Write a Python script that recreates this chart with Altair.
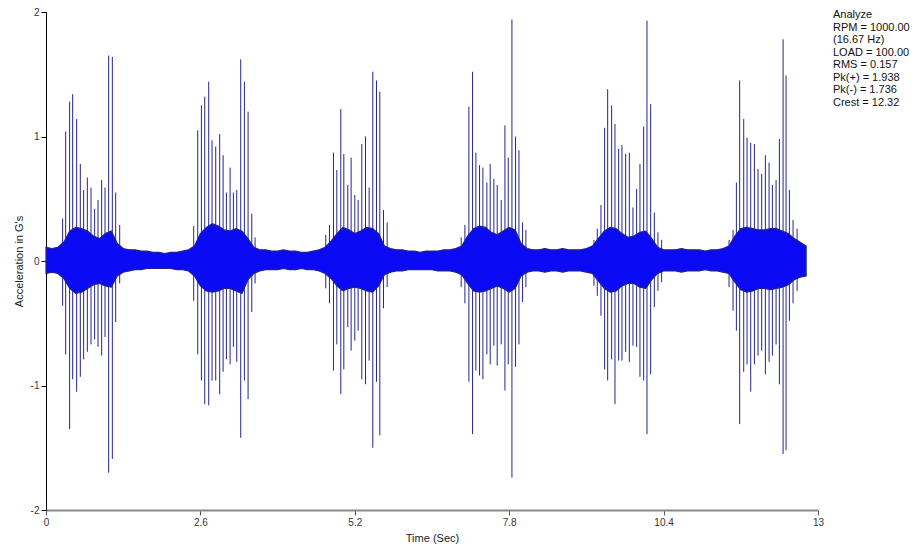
import altair as alt
import pandas as pd

# ---- main once-per-revolution spikes (time s, positive peak G, negative peak G) ----
spike_t = [
    0.280, 0.331, 0.398, 0.449, 0.516, 0.578, 0.634, 0.696, 0.758, 0.819, 0.876, 0.937, 0.994, 1.055, 1.117, 1.173, 1.241,
    2.487, 2.555, 2.617, 2.673, 2.740, 2.796, 2.858, 2.925, 2.982, 3.038, 3.100, 3.156, 3.212, 3.279, 3.341, 3.403, 3.465, 3.521,
    4.711, 4.773, 4.841, 4.897, 4.964, 5.015, 5.082, 5.138, 5.200, 5.256, 5.318, 5.380, 5.442, 5.503, 5.565, 5.621, 5.683, 5.745,
    6.992, 7.054, 7.121, 7.183, 7.239, 7.301, 7.357, 7.424, 7.480, 7.542, 7.598, 7.666, 7.728, 7.784, 7.846, 7.907, 7.964, 8.025, 8.081,
    9.227, 9.283, 9.345, 9.407, 9.458, 9.525, 9.581, 9.643, 9.699, 9.761, 9.823, 9.884, 9.946, 10.002, 10.064, 10.120, 10.182, 10.244, 10.305, 10.367,
    11.502, 11.569, 11.626, 11.681, 11.749, 11.805, 11.867, 11.929, 11.990, 12.052, 12.114, 12.176, 12.232, 12.294, 12.350, 12.412, 12.462, 12.518, 12.580, 12.648,
]
spike_top = [
    0.34, 1.04, 1.28, 1.34, 1.14, 0.78, 0.57, 0.67, 0.59, 0.42, 0.49, 0.65, 0.59, 1.65, 1.64, 0.55, 0.29,
    0.28, 1.05, 1.25, 1.32, 1.44, 0.97, 0.92, 1.02, 0.85, 0.55, 0.75, 0.55, 0.57, 1.62, 1.44, 1.20, 0.38, 0.19,
    0.21, 0.29, 0.87, 0.73, 1.22, 0.86, 0.61, 0.83, 0.53, 0.49, 0.94, 1.00, 0.59, 1.52, 1.45, 1.36, 0.41, 0.31,
    0.19, 0.29, 1.24, 1.52, 0.87, 0.77, 0.75, 0.63, 0.78, 0.66, 0.61, 0.49, 1.09, 0.83, 1.94, 1.00, 0.89, 0.31, 0.25,
    0.17, 0.26, 0.45, 1.07, 1.38, 1.25, 1.10, 0.90, 0.93, 0.86, 0.87, 0.43, 0.58, 0.78, 1.08, 1.93, 1.26, 0.39, 0.23, 0.17,
    0.17, 0.25, 0.63, 1.45, 1.14, 0.99, 0.95, 0.94, 0.74, 0.70, 0.85, 0.79, 0.61, 0.65, 0.98, 1.78, 1.49, 0.57, 0.33, 0.26,
]
spike_bot = [
    -0.36, -0.75, -1.35, -0.95, -1.05, -0.93, -0.79, -0.73, -0.67, -0.63, -0.69, -0.76, -0.61, -1.70, -1.59, -0.49, -0.18,
    -0.32, -0.75, -0.96, -1.15, -1.16, -0.96, -0.96, -1.07, -0.89, -0.79, -0.83, -0.69, -0.81, -1.42, -0.96, -1.11, -0.41, -0.18,
    -0.22, -0.34, -0.88, -0.67, -1.07, -0.87, -0.53, -0.72, -0.64, -0.56, -0.95, -0.99, -0.80, -1.50, -0.97, -1.40, -0.38, -0.21,
    -0.21, -0.34, -0.97, -1.39, -0.88, -0.92, -0.95, -0.75, -0.83, -0.68, -0.84, -0.67, -1.04, -0.83, -1.74, -0.85, -0.67, -0.33, -0.21,
    -0.20, -0.28, -0.44, -0.87, -0.96, -0.79, -1.15, -0.80, -0.80, -0.73, -0.81, -0.68, -0.69, -0.93, -0.96, -1.39, -0.91, -0.37, -0.24, -0.17,
    -0.21, -0.40, -0.56, -1.31, -0.89, -0.83, -1.05, -0.83, -0.76, -0.72, -0.91, -0.81, -0.76, -0.67, -0.99, -1.55, -1.52, -0.48, -0.34, -0.24,
]

# ---- dense vibration band envelope, read every 0.1 s from 0.0 to 12.8 s ----
env_hi = [
    0.11, 0.10, 0.11, 0.15, 0.24, 0.27, 0.26, 0.24, 0.20, 0.18,
    0.22, 0.24, 0.14, 0.10, 0.09, 0.09, 0.08, 0.08, 0.07, 0.07,
    0.06, 0.07, 0.07, 0.08, 0.09, 0.12, 0.22, 0.27, 0.30, 0.28,
    0.25, 0.24, 0.26, 0.24, 0.18, 0.11, 0.09, 0.09, 0.08, 0.08,
    0.09, 0.08, 0.08, 0.07, 0.07, 0.08, 0.09, 0.11, 0.16, 0.22,
    0.27, 0.25, 0.22, 0.24, 0.27, 0.26, 0.22, 0.12, 0.10, 0.09,
    0.09, 0.08, 0.08, 0.07, 0.08, 0.08, 0.08, 0.09, 0.09, 0.10,
    0.12, 0.20, 0.26, 0.28, 0.27, 0.23, 0.21, 0.24, 0.27, 0.25,
    0.14, 0.10, 0.09, 0.09, 0.10, 0.09, 0.09, 0.10, 0.09, 0.09,
    0.09, 0.10, 0.12, 0.18, 0.24, 0.27, 0.26, 0.22, 0.19, 0.20,
    0.23, 0.24, 0.18, 0.11, 0.09, 0.09, 0.09, 0.10, 0.09, 0.09,
    0.09, 0.08, 0.09, 0.09, 0.10, 0.12, 0.20, 0.26, 0.27, 0.26,
    0.25, 0.25, 0.26, 0.26, 0.24, 0.22, 0.18, 0.15, 0.12,
]
env_lo = [
    -0.10, -0.09, -0.10, -0.14, -0.22, -0.26, -0.25, -0.22, -0.19, -0.18,
    -0.20, -0.21, -0.12, -0.09, -0.08, -0.07, -0.07, -0.06, -0.06, -0.06,
    -0.06, -0.06, -0.07, -0.07, -0.08, -0.12, -0.20, -0.24, -0.25, -0.24,
    -0.22, -0.22, -0.24, -0.26, -0.15, -0.10, -0.08, -0.07, -0.07, -0.07,
    -0.06, -0.07, -0.07, -0.06, -0.07, -0.07, -0.08, -0.10, -0.14, -0.20,
    -0.24, -0.22, -0.21, -0.22, -0.24, -0.25, -0.20, -0.11, -0.09, -0.08,
    -0.08, -0.07, -0.07, -0.07, -0.07, -0.07, -0.08, -0.08, -0.08, -0.09,
    -0.11, -0.18, -0.24, -0.25, -0.24, -0.22, -0.20, -0.22, -0.25, -0.22,
    -0.12, -0.09, -0.08, -0.08, -0.09, -0.08, -0.08, -0.09, -0.08, -0.08,
    -0.08, -0.09, -0.10, -0.16, -0.22, -0.25, -0.24, -0.20, -0.18, -0.18,
    -0.21, -0.22, -0.15, -0.10, -0.08, -0.08, -0.08, -0.09, -0.08, -0.08,
    -0.08, -0.07, -0.08, -0.08, -0.09, -0.10, -0.17, -0.23, -0.25, -0.24,
    -0.22, -0.22, -0.23, -0.22, -0.21, -0.19, -0.15, -0.13, -0.12,
]
env_t = [round(i * 0.1, 1) for i in range(len(env_hi))]

x_ticks = [0, 2.6, 5.2, 7.8, 10.4, 13]
y_ticks = [-2, -1, 0, 1, 2]
info_lines = ["Analyze", "RPM = 1000.00", "(16.67 Hz)", "LOAD = 100.00",
              "RMS = 0.157", "Pk(+) = 1.938", "Pk(-) = 1.736", "Crest = 12.32"]

spikes = pd.DataFrame({"t": spike_t, "top": spike_top, "bot": spike_bot})
band = pd.DataFrame({"t": env_t, "hi": env_hi, "lo": env_lo})

FONT = "Liberation Sans"
xscale = alt.Scale(domain=[0, 13], nice=False, zero=False)
yscale = alt.Scale(domain=[-2, 2], nice=False)

xaxis = alt.Axis(values=x_ticks, labelExpr="datum.value", title="Time (Sec)",
                 grid=False, domainColor="#8a8a8a", domainWidth=2, tickColor="#555555",
                 tickSize=5, labelFont=FONT, labelFontSize=10, labelColor="#333333",
                 labelPadding=2, titleFont=FONT, titleFontSize=11, titleFontWeight="normal",
                 titleColor="#222222", titlePadding=5, labelFlush=False)
yaxis = alt.Axis(values=y_ticks, labelExpr="datum.value", title="Acceleration in G's",
                 grid=False, domainColor="#000000", tickColor="#000000", tickSize=5,
                 labelFont=FONT, labelFontSize=10, labelColor="#333333", labelPadding=2,
                 titleFont=FONT, titleFontSize=11, titleFontWeight="normal",
                 titleColor="#222222", titlePadding=6, labelFlush=False)

rules = alt.Chart(spikes).mark_rule(color="#25258f", strokeWidth=1).encode(
    x=alt.X("t:Q", scale=xscale, axis=xaxis),
    y=alt.Y("top:Q", scale=yscale, axis=yaxis),
    y2="bot:Q",
)

core = alt.Chart(band).mark_area(color="#0a0af5", stroke="#23238c", strokeWidth=1.2,
                                 interpolate="linear").encode(
    x=alt.X("t:Q", scale=xscale),
    y=alt.Y("hi:Q", scale=yscale),
    y2="lo:Q",
)

info = alt.Chart(pd.DataFrame({"k": [0]})).mark_text(
    align="left", baseline="top", font=FONT, fontSize=11, color="#111111", lineHeight=12.5
).encode(
    x=alt.value(787), y=alt.value(-3), text=alt.value(info_lines)
)

chart = alt.layer(rules, core, info).properties(
    width=772, height=498,
    autosize=alt.AutoSizeParams(type="none"),
    padding={"left": 38, "top": 4, "right": 92, "bottom": 34},
).configure_view(stroke=None)

chart.save("out.html", embed_options={"renderer": "svg", "actions": False})
